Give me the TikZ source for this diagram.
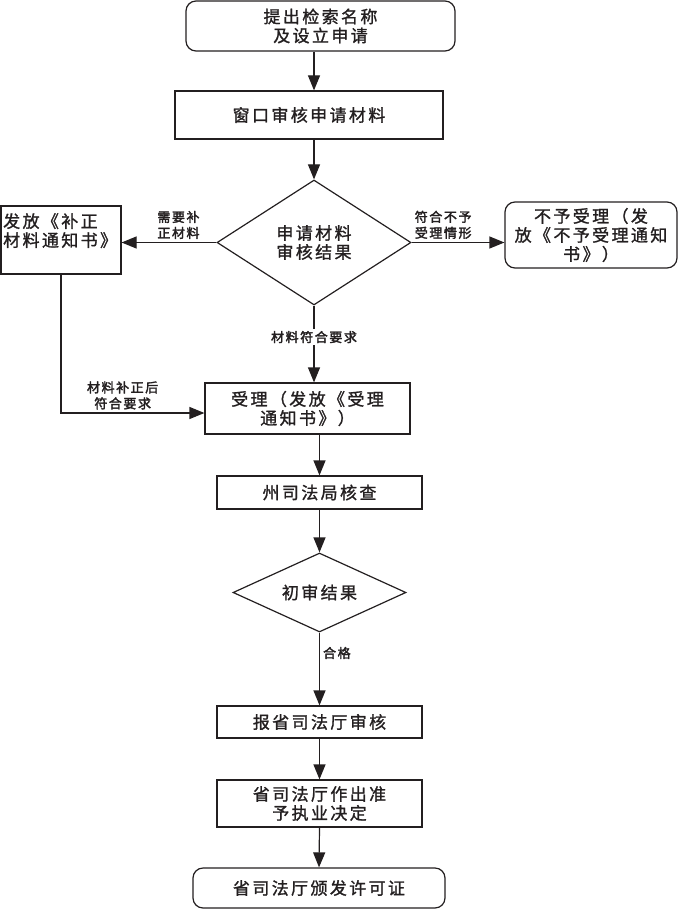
\documentclass[tikz,border=0pt]{standalone}
\usepackage{fontspec}
\usetikzlibrary{arrows.meta,shapes.geometric,calc}
\newfontfamily\cjk[LetterSpace=14,FakeBold=1.3]{Noto Sans CJK SC}
\newfontfamily\cjkb[LetterSpace=12,FakeBold=2.5]{Noto Sans CJK SC}
\definecolor{ink}{HTML}{231F20}
\tikzset{
  box/.style={draw=ink, text=ink, line width=1.2pt, inner sep=0pt, align=center,
    font={\cjk\fontsize{17}{19}\selectfont}},
  rbox/.style={box, rounded corners=10pt},
  dia/.style={box, diamond, aspect=1.5},
  arr/.style={draw=ink, line width=1.2pt, -{Triangle[length=15pt,width=12pt]}},
  lab/.style={text=ink, align=center, inner sep=1pt, font={\cjkb\fontsize{13}{16}\selectfont}},
  plain/.style={text=ink, inner sep=0pt, font={\cjk\fontsize{17}{19}\selectfont}}
}
\begin{document}
\begin{tikzpicture}[x=1pt,y=-1pt]
\useasboundingbox (0,0) rectangle (678,909);

\node[rbox, minimum width=269pt, minimum height=50pt] (n1) at (320.5,26) {提出检索名称\\及设立申请};
\node[box, minimum width=268pt, minimum height=48pt] (n2) at (309,115) {窗口审核申请材料};
\node[dia, minimum width=194pt, minimum height=125pt] (d1) at (314,242.5) {申请材料\\审核结果};
\node[box, minimum width=120pt, minimum height=68pt] (L) at (61,240) {};
\node[plain, anchor=north west, align=left] (Lt) at (3,213) {发放《补正\\材料通知书》};
\node[rbox, minimum width=172pt, minimum height=66pt] (R) at (591,235) {不予受理（发\\放《不予受理通知\\书》）};
\node[box, minimum width=205pt, minimum height=51pt] (S) at (307.5,408.5) {受理（发放《受理\\通知书》）};
\node[box, minimum width=205pt, minimum height=33pt] (F) at (319.5,492.5) {州司法局核查};
\node[dia, minimum width=173pt, minimum height=79pt] (d2) at (319.5,592.5) {初审结果};
\node[box, minimum width=205pt, minimum height=32pt] (B1) at (319.5,722) {报省司法厅审核};
\node[box, minimum width=205pt, minimum height=47pt] (B2) at (319.5,803.5) {省司法厅作出准\\予执业决定};
\node[rbox, minimum width=252pt, minimum height=40pt] (B3) at (319,888) {省司法厅颁发许可证};

\draw[arr] (n1.south -| d1.north) -- (n2.north -| d1.north);
\draw[arr] (n2.south -| d1.north) -- (d1.north);
\draw[arr] (d1.west) -- node[lab, pos=0.4, anchor=south, yshift=2pt] (l1) {需要补\\正材料} (d1.west -| L.east);
\draw[arr] (d1.east) -- node[lab, pos=0.34, anchor=south, yshift=2pt] (l2) {符合不予\\受理情形} (d1.east -| R.west);
\draw[arr] (d1.south) -- node[lab, pos=0.41, fill=white, inner sep=2pt] (l3) {材料符合要求} (d1.south |- S.north);
\draw[arr] (L.south) |- node[lab, pos=0.715, anchor=south, yshift=2pt] (l4) {材料补正后\\符合要求} ($(S.west)+(0,4.5)$);
\draw[arr] (F.north |- S.south) -- (F.north);
\draw[arr] (F.south) -- (d2.north);
\draw[arr] (d2.south) -- node[lab, pos=0.28, anchor=west, xshift=2pt] (l5) {合格} (B1.north);
\draw[arr] (B1.south) -- (B2.north);
\draw[arr] (B2.south) -- (B3.north);
\end{tikzpicture}
\end{document}
